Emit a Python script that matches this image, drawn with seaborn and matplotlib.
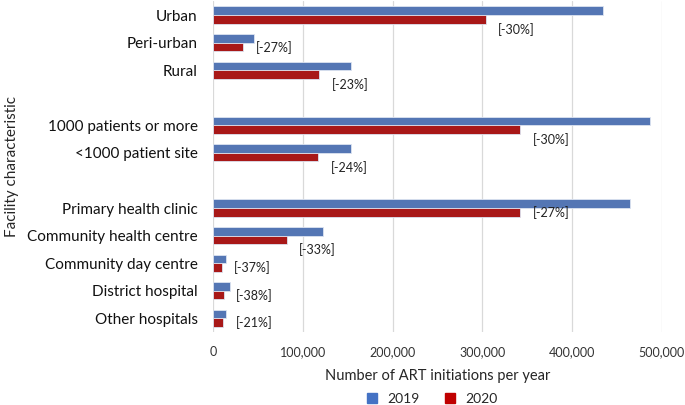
import matplotlib
matplotlib.use("Agg")
import matplotlib.pyplot as plt
import matplotlib.ticker as mticker
from matplotlib.lines import Line2D
import pandas as pd
import seaborn as sns


categories = [
    "Urban", "Peri-urban", "Rural",
    "1000 patients or more", "<1000 patient site",
    "Primary health clinic", "Community health centre", "Community day centre",
    "District hospital", "Other hospitals",
]
# blank rows separate the three groups
row_order = [
    "Urban", "Peri-urban", "Rural", "",
    "1000 patients or more", "<1000 patient site", " ",
    "Primary health clinic", "Community health centre", "Community day centre",
    "District hospital", "Other hospitals",
]
initiations_2019 = [435000, 46000, 154000, 487000, 154000, 465000, 123000, 15000, 19000, 14700]
initiations_2020 = [304000, 33500, 118000, 342000, 117000, 342000, 82000, 9500, 11800, 11600]
pct_change = ["[-30%]", "[-27%]", "[-23%]", "[-30%]", "[-24%]",
              "[-27%]", "[-33%]", "[-37%]", "[-38%]", "[-21%]"]
label_low = [True, False, True, True, True, False, True, False, False, False]

years = ["2019", "2020"]
colors = {"2019": "#4472C4", "2020": "#C00000"}

df = pd.DataFrame({
    "category": categories * 2,
    "year": ["2019"] * len(categories) + ["2020"] * len(categories),
    "value": initiations_2019 + initiations_2020,
})

sns.set_style("white")
plt.rcParams["font.family"] = ["Lato", "DejaVu Sans"]

fig = plt.figure(figsize=(6.85, 4.05), dpi=100)
ax = fig.add_axes([0.311, 0.18, 0.655, 0.817])

sns.barplot(
    data=df, y="category", x="value", hue="year", order=row_order,
    hue_order=years, palette=colors, orient="h", width=0.62,
    edgecolor="#dce3f0", linewidth=0.6, ax=ax, legend=False,
)

for cat, val, txt, low in zip(categories, initiations_2020, pct_change, label_low):
    yi = row_order.index(cat)
    ax.annotate(txt, xy=(val, yi + (0.52 if low else 0.17)), xytext=(9, 0),
                textcoords="offset points", ha="left", va="center",
                fontsize=9, color="#222222")

ax.set_xlim(0, 500000)
ax.set_ylim(len(row_order) - 0.5, -0.5)
ax.xaxis.set_major_locator(mticker.MultipleLocator(100000))
ax.xaxis.set_major_formatter(mticker.FuncFormatter(lambda v, p: f"{int(v):,}"))
ax.grid(axis="x", color="#d9d9d9", linewidth=0.9)
ax.set_axisbelow(True)
for s in ax.spines.values():
    s.set_visible(False)
ax.tick_params(axis="both", length=0)
ax.tick_params(axis="y", labelsize=11, pad=11, labelcolor="#111111")
ax.tick_params(axis="x", labelsize=9, pad=10, labelcolor="#333333")
ax.set_xlabel("Number of ART initiations per year", fontsize=10.5, labelpad=8)
ax.set_ylabel("Facility characteristic", fontsize=11, labelpad=6)

handles = [Line2D([], [], marker="s", linestyle="", markersize=7,
                  markerfacecolor=colors[y], markeredgecolor=colors[y]) for y in years]
fig.legend(handles, years, loc="lower center", ncol=2, frameon=False,
           fontsize=10, bbox_to_anchor=(0.625, -0.03), handletextpad=0.1,
           columnspacing=1.2)

fig.savefig("out.png", dpi=100)
